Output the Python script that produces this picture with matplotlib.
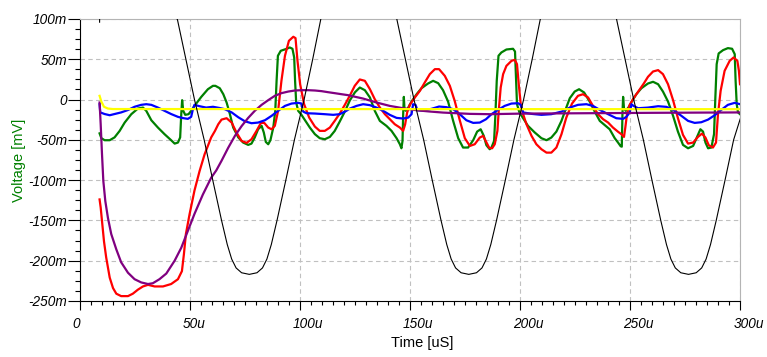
#!/usr/bin/env python3
"""Transient simulation traces: voltage vs time, six probes."""
import matplotlib
matplotlib.use("Agg")
import matplotlib.pyplot as plt
from matplotlib.ticker import MultipleLocator, FixedLocator, FixedFormatter
from matplotlib.transforms import ScaledTranslation

# ---- data (time in uS, voltage in mV) ----
black1_t = [9.0, 9.3, 44.3, 48.2, 52.1, 56.5, 60.4, 62.4, 64.4, 67.0, 69.0, 71.0, 73.5, 77.0,
            80.5, 83.0, 85.0, 87.0, 89.6, 91.6, 93.6, 97.5, 101.9, 105.8, 109.5]
black1_v = [96, 140, 100, 50, 0, -50, -100, -125, -150, -180, -198, -209, -215, -217,
            -215, -209, -198, -180, -150, -125, -100, -50, 0, 50, 100]
black2_t = [144.0, 147.9, 151.8, 156.2, 160.1, 162.1, 164.1, 166.7, 168.7, 170.7, 173.2, 176.7,
            180.2, 182.7, 184.7, 186.7, 189.3, 191.3, 193.3, 197.2, 201.6, 205.5, 209.2]
black2_v = [100, 50, 0, -50, -100, -125, -150, -180, -198, -209, -215, -217,
            -215, -209, -198, -180, -150, -125, -100, -50, 0, 50, 100]
black3_t = [243.8, 247.7, 251.6, 256.0, 259.9, 261.9, 263.9, 266.5, 268.5, 270.5, 273.0, 276.5,
            280.0, 282.5, 284.5, 286.5, 289.1, 291.1, 293.1, 297.0, 300.0]
black3_v = [100, 50, 0, -50, -100, -125, -150, -180, -198, -209, -215, -217,
            -215, -209, -198, -180, -150, -125, -100, -50, -24]

green_t = [9.0, 9.8, 11.3, 13.6, 15.8, 18.1, 20.4, 23.4, 26.4, 28.7, 30.2, 32.5, 35.5, 38.5,
           41.5, 43.1, 44.6, 45.6, 46.1, 46.5, 47.0, 47.9, 49.4, 50.6, 52.1, 55.2, 58.2, 60.5,
           61.6, 63.6, 65.2, 66.7, 68.2, 69.7, 72.0, 74.2, 76.5, 78.0, 79.5, 81.0, 82.6, 83.6,
           84.5, 85.6, 86.6, 87.9, 88.8, 89.4, 90.0, 91.3, 93.5, 95.4, 96.6, 97.4, 97.8, 98.3,
           99.2, 100.7, 102.5, 104.5, 106.8, 109.0, 111.3, 113.6, 115.8, 118.1, 120.4, 122.7,
           125.0, 127.2, 129.5, 131.8, 134.0, 136.3, 139.3, 141.6, 143.9, 145.4, 146.1, 146.6,
           146.9, 147.2, 147.5, 148.1, 149.2, 150.7, 153.0, 155.2, 158.2, 160.5, 162.8, 165.0,
           167.3, 169.6, 171.9, 174.1, 176.4, 178.7, 180.5, 182.1, 183.5, 184.7, 186.2, 187.0,
           188.2, 188.8, 189.4, 190.2, 191.5, 193.8, 196.8, 197.7, 198.2, 198.6, 199.7, 201.4,
           203.6, 206.7, 209.7, 212.0, 214.2, 216.5, 218.8, 221.0, 222.6, 224.8, 226.8, 229.1,
           231.6, 233.9, 236.2, 238.4, 240.7, 243.0, 244.5, 245.7, 246.2, 246.5, 246.8, 247.2,
           248.0, 249.4, 250.9, 252.8, 255.1, 258.1, 260.4, 262.7, 264.9, 267.2, 269.5, 271.7,
           274.0, 276.3, 278.6, 280.4, 281.9, 283.1, 284.2, 285.4, 286.9, 288.1, 288.7, 289.3,
           290.2, 292.2, 294.4, 296.3, 297.5, 297.9, 298.4, 299.0, 299.9]
green_v = [-42, -48, -50.5, -50.5, -47, -39, -28.6, -18.2, -11.2, -10, -14, -25.7, -34.8, -43,
           -50.5, -54.7, -53.4, -47, -18.2, -0.8, -14, -19, -18.2, -14, -7.9, 3.3, 12.8, 17,
           17, 14, 6.6, -3.7, -18.2, -34.8, -47, -53.4, -56.3, -54.7, -47, -36.9, -32.7, -41,
           -52.6, -55.5, -50.5, -34.8, -14, 23.2, 54.3, 60.5, 62.5, 64.6, 63, 52.2, 23.2, -3.7,
           -14, -19, -26.5, -34.8, -43, -48, -49.3, -46.4, -39, -27.3, -14.9, -1,
           9, 14.9, 11.6, 2.5, -14, -26.5, -32.7, -38.9, -48, -55.5, -60.5, -51.4,
           -18.2, 3.3, -12, -14, -10, -2.5, 6.6, 14, 19.9, 23.2, 20.3, 11.6,
           -2.5, -26.5, -48, -59.6, -59.6, -50.5, -39.8, -36.9, -45, -56.7, -61.7, -59.6,
           -51.4, -18.2, 23.2, 54.3, 58.4, 62.1, 63, 59.6, 23.2, -5.8, -16, -23.2,
           -32.7, -41, -48, -50.5, -47.2, -39.8, -26.5, -9.9, 1.7, 9.9, 12.8, 8.7,
           -2.5, -14.9, -26.5, -31.5, -36.9, -48, -53.4, -58, -58.5, -18.2, 3.3, -10.8,
           -14, -9.1, -1.7, 6.6, 14, 19.9, 22, 19, 9.9, -2.5, -20.3, -39.8,
           -56.3, -60.5, -57.6, -46.4, -36.9, -39.8, -53.4, -60.5, -59.6, -43, 2.5, 43.9,
           57.2, 61.3, 63.8, 63, 56.3, 23.2, -5.8, -16, -18.2]

red_t = [9.0, 9.5, 10.1, 11.0, 12.0, 13.6, 15.1, 16.6, 18.8, 21.9, 24.1, 26.4, 28.7, 31.0,
         34.0, 37.8, 41.5, 44.6, 46.4, 47.3, 48.2, 49.9, 52.1, 54.4, 56.7, 59.7, 61.4, 62.9,
         64.4, 66.7, 69.0, 71.2, 73.5, 75.8, 78.0, 80.3, 82.3, 83.8, 85.6, 87.1, 88.6, 90.1,
         91.6, 93.2, 95.0, 97.0, 98.0, 98.9, 100.1, 101.9, 104.2, 106.8, 109.0, 111.3, 113.6,
         115.8, 118.1, 120.4, 122.7, 124.9, 127.2, 129.5, 131.8, 134.0, 136.3, 138.6, 140.8,
         143.1, 145.4, 146.9, 147.8, 148.7, 149.9, 152.2, 154.5, 156.7, 159.0, 161.3, 163.2,
         165.8, 168.1, 170.3, 172.6, 174.9, 177.2, 179.4, 181.7, 183.2, 184.7, 186.0, 187.3,
         188.5, 189.7, 190.3, 191.2, 192.3, 193.8, 196.1, 197.6, 198.6, 199.4, 200.3, 201.4,
         202.9, 205.2, 207.4, 209.7, 212.0, 214.2, 216.5, 218.8, 221.0, 223.6, 226.3, 228.6,
         230.9, 233.1, 235.4, 237.7, 240.0, 242.2, 244.5, 246.0, 247.2, 247.8, 248.6, 249.8,
         251.8, 253.9, 256.2, 258.1, 260.4, 262.7, 264.9, 267.2, 269.5, 271.7, 274.0, 276.3,
         278.6, 280.8, 282.6, 284.2, 285.7, 287.6, 289.0, 289.9, 291.1, 292.9, 295.2, 297.0,
         298.7, 299.4, 299.9]
red_v = [-124, -134, -151, -176, -196, -221, -234, -241, -244, -244, -241, -236, -232, -230,
         -232, -232, -229, -223, -213, -192, -167, -142, -113, -89, -68, -47, -39, -30.7,
         -24.9, -23.2, -28.6, -41, -51.4, -53.8, -49.3, -38.9, -29, -29, -34.8, -36.9, -32.7, -14,
         23.2, 54.3, 72.9, 77.9, 76.2, 48, 19, -5.8, -22.4, -33.6, -38.9, -38.9, -34.8,
         -26.5, -17.4, -6.6, 5, 17, 24.9, 23.2, 12.8, 0.4, -9.9, -18.2, -24.4,
         -30.7, -34.8, -38.9, -30.7, -16.2, -6.6, 2.5, 10.8, 21.1, 31.5, 37.7, 37.7,
         29.4, 17, -1.7, -25.7, -48, -57.6, -55.5, -47.2, -45.1, -53, -60, -60.5,
         -55.5, -38.9, -14, 14.9, 31.5, 41.8, 48, 49.3, 43.9, 19, -5.8, -18.2,
         -30.7, -45.1, -55.5, -61.7, -65.9, -65.9, -59.6, -43.1, -22.4, -5, 4.6, 6.6,
         2.5, -7.9, -18.2, -24.4, -28.6, -34.8, -40, -43, -46.4, -34.8, -17.4, -6.6,
         2.5, 10.8, 19.9, 28.2, 34.8, 36.5, 31.5, 19, -0.8, -23.2, -43.9, -54.7,
         -53.4, -46.4, -42.3, -47.2, -56.7, -59.6, -53.4, -18.2, 10.8, 35.6, 48, 52.2,
         48, 35.6, 19]

blue_t = [9.0, 9.3, 11.3, 13.6, 15.8, 18.8, 21.9, 24.9, 27.9, 30.2, 32.5, 35.5, 38.5, 41.5,
          44.6, 46.8, 49.1, 50.6, 51.4, 52.1, 54.4, 57.4, 60.5, 63.5, 65.9, 69.0, 72.0, 75.0,
          78.0, 81.0, 84.1, 87.1, 90.1, 93.2, 96.2, 99.2, 100.7, 101.5, 103.0, 106.8, 111.3,
          115.1, 118.1, 121.1, 122.7, 125.7, 128.7, 131.8, 134.8, 137.8, 140.8, 143.9, 146.9,
          149.2, 150.7, 151.4, 152.5, 153.4, 156.0, 159.7, 163.2, 166.6, 169.6, 172.6, 175.6,
          178.7, 181.7, 184.5, 187.0, 190.0, 193.0, 196.1, 199.1, 200.3, 201.4, 205.2, 209.7,
          214.2, 218.8, 222.6, 226.3, 230.1, 233.1, 236.2, 240.0, 243.7, 246.8, 248.3, 249.8,
          250.6, 251.5, 253.6, 258.1, 262.7, 266.5, 270.2, 273.3, 276.3, 279.3, 282.3, 285.4,
          288.4, 291.4, 294.4, 297.5, 299.9]
blue_v = [-5.8, -16, -18, -19.5, -18, -16, -13, -9, -6.6, -5.8, -6.6, -10, -14, -18,
          -21.5, -23, -24, -21.5, -12, -6.6, -8.3, -10, -9, -10.5, -12, -16, -22, -27,
          -29.4, -28.6, -25.7, -20.3, -14, -7.9, -5, -4.1, -5, -15, -17, -17.4, -18.2,
          -19, -18.2, -14, -11.2, -7.9, -5.8, -7, -10, -14, -19, -22.8, -23.6,
          -22.4, -18.2, -5.8, -6.6, -13.3, -13.7, -11.6, -8.7, -9.5, -12, -18.2, -25.7,
          -29, -28.6, -24.5, -18.2, -12.8, -7.9, -5, -4.6, -6.6, -16, -17.8, -19,
          -18.2, -15, -10, -6.6, -5.8, -7.9, -12.8, -18.2, -23.2, -24, -21.5, -16,
          -5.8, -7.9, -10.8, -10, -8.3, -9.1, -14, -20.3, -26.5, -29, -28.2, -24.9,
          -19.5, -12.8, -6.6, -4.1, -5.8]

purple_t = [9.0, 9.5, 10.1, 10.7, 11.6, 12.8, 14.3, 16.6, 18.8, 21.9, 24.9, 27.9, 31.0, 33.2,
            36.2, 39.3, 43.1, 46.1, 49.1, 52.1, 55.9, 59.7, 62.0, 64.4, 67.4, 70.5, 73.5, 76.5,
            79.5, 82.6, 85.6, 88.6, 91.6, 94.7, 97.7, 100.7, 103.7, 106.8, 109.8, 112.8, 115.8,
            118.9, 121.9, 124.9, 128.7, 134.8, 140.8, 146.9, 153.0, 159.0, 165.0, 171.1, 177.2,
            186.2, 200.0, 230.0, 260.0, 300.0]
purple_v = [-3.7, -30.7, -67.9, -101, -126, -147, -167, -186, -202, -215, -223, -227, -229, -228,
            -223, -216, -200, -184, -163, -142, -118, -97, -88, -76, -60, -45, -33, -22.8,
            -14, -6.6, -0.8, 4.6, 7.9, 9.9, 11.2, 11.6, 11.6, 11.2, 10.4, 9.1, 7.9,
            6.6, 5.4, 3.5, 1.2, -3.7, -7.9, -10.8, -13.3, -14.9, -16.2, -17, -17.8,
            -18.2, -17.5, -17, -16.5, -16]

yellow_t = [9.0, 9.8, 11.0, 12.8, 15.0, 300.0]
yellow_v = [4.6, -2.5, -9, -11.2, -11.8, -12]

x_ticks = [0, 50, 100, 150, 200, 250, 300]
x_tick_labels = ["0", "50u", "100u", "150u", "200u", "250u", "300u"]
y_ticks = [-250, -200, -150, -100, -50, 0, 50, 100]
y_tick_labels = ["-250m", "-200m", "-150m", "-100m", "-50m", "0", "50m", "100m"]


def main() -> None:
    # tick labels in the source tool are italic; axis titles are upright
    plt.rcParams["font.family"] = ["Liberation Sans", "Arimo", "DejaVu Sans"]
    plt.rcParams["font.style"] = "italic"
    plt.rcParams["xtick.labelsize"] = 9.8
    plt.rcParams["ytick.labelsize"] = 9.8

    fig = plt.figure(figsize=(7.67, 3.57), dpi=100)
    ax = fig.add_axes([0.104, 0.157, 0.8611, 0.7899])

    lw = 1.6
    ax.plot(green_t, green_v, color="#008000", lw=lw, zorder=3)
    ax.plot(red_t, red_v, color="#ff0000", lw=lw, zorder=4)
    ax.plot(blue_t, blue_v, color="#0000ff", lw=lw, zorder=5)
    ax.plot(purple_t, purple_v, color="#800080", lw=lw, zorder=6)
    ax.plot(yellow_t, yellow_v, color="#ffff00", lw=lw, zorder=7)
    for bt, bv in ((black1_t, black1_v), (black2_t, black2_v), (black3_t, black3_v)):
        ax.plot(bt, bv, color="black", lw=0.8, zorder=8)

    ax.set_xlim(0, 300)
    ax.set_ylim(-250, 100)

    ax.xaxis.set_major_locator(FixedLocator(x_ticks))
    ax.xaxis.set_major_formatter(FixedFormatter(x_tick_labels))
    ax.xaxis.set_minor_locator(MultipleLocator(5))
    ax.yaxis.set_major_locator(FixedLocator(y_ticks))
    ax.yaxis.set_major_formatter(FixedFormatter(y_tick_labels))
    ax.yaxis.set_minor_locator(MultipleLocator(12.5))

    ax.tick_params(axis="x", which="major", direction="out", length=6.5, width=0.8, pad=5)
    ax.tick_params(axis="x", which="minor", direction="out", length=2.9, width=0.8)
    ax.tick_params(axis="y", which="major", direction="out", length=8.6, width=0.8, pad=0.5)
    ax.tick_params(axis="y", which="minor", direction="out", length=3.6, width=0.8)

    # x labels start a little left of their tick, as in the original tool
    shift = ScaledTranslation(-7 / 100, 0, fig.dpi_scale_trans)
    for lab in ax.get_xticklabels():
        lab.set_ha("left")
        lab.set_style("italic")
        lab.set_transform(lab.get_transform() + shift)
    for lab in ax.get_yticklabels():
        lab.set_style("italic")

    ax.grid(which="major", color="#c0c0c0", linestyle=(0, (4, 3)), linewidth=0.8, zorder=0)

    for side in ("left", "bottom"):
        ax.spines[side].set_color("black")
        ax.spines[side].set_linewidth(0.8)
    for side in ("top", "right"):
        ax.spines[side].set_color("#b4b4b4")
        ax.spines[side].set_linewidth(0.8)

    ax.set_xlabel("Time [uS]", fontsize=10.5, fontstyle="normal")
    ax.xaxis.set_label_coords(0.518, -0.149)
    ax.xaxis.label.set_va("center")
    ax.set_ylabel("Voltage [mV]", fontsize=10.5, color="#008000", fontstyle="normal")
    ax.yaxis.set_label_coords(-0.092, 0.5)
    ax.yaxis.label.set_va("center")

    fig.savefig("out.png", dpi=100)
    plt.close(fig)


if __name__ == "__main__":
    main()
